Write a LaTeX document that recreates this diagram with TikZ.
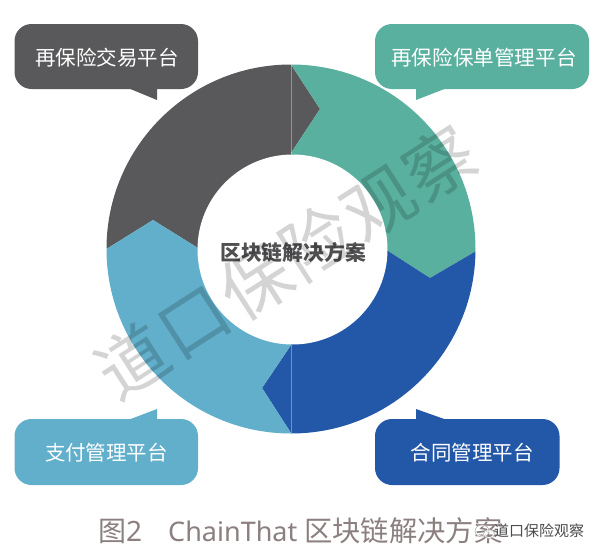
\documentclass[tikz,border=0pt]{standalone}
\usepackage{fontspec}
\setmainfont{Noto Sans CJK SC}
\newfontfamily\capfont{Noto Sans}
\definecolor{cgrey}{HTML}{59595B}
\definecolor{cteal}{HTML}{5AB09F}
\definecolor{cblue}{HTML}{2357A8}
\definecolor{clight}{HTML}{62AFCB}
\definecolor{captxt}{HTML}{8C7F7F}
\tikzset{
  calltext/.style={text=white,font=\fontsize{19.5}{22}\selectfont,inner sep=0pt},
  bubble/.style={rounded corners=17pt},
}
\begin{document}
\begin{tikzpicture}[x=1pt,y=-1pt]
\useasboundingbox (0,0) rectangle (600,557);
\fill[white] (0,0) rectangle (600,557);
\coordinate (c) at (291,249);
% ring
\begin{scope}
\clip (c) circle[radius=184.5pt];
\fill[cgrey] (291,64.5)--(320,109)--(291,153)--(c)--(198,248)--(153,220)--(108,248)--(0,248)--(0,0)--(291,0)--cycle;
\fill[cteal] (291,64.5)--(320,109)--(291,153)--(c)--(388,251)--(430,278)--(478,250)--(600,250)--(600,0)--(291,0)--cycle;
\fill[cblue] (478,250)--(430,278)--(388,251)--(c)--(291,345)--(262,388)--(291,433)--(291,557)--(600,557)--(600,250)--cycle;
\fill[clight] (291,433)--(262,388)--(291,345)--(c)--(198,248)--(153,220)--(108,248)--(0,248)--(0,557)--(291,557)--cycle;
\draw[white,opacity=.35,line width=.6pt] (291,64)--(291,154) (291,345)--(291,433);
\end{scope}
\fill[white] (292.5,249.5) circle[radius=95pt];
% callouts
\fill[cgrey,bubble] (14.5,24) rectangle (198,89);
\fill[cgrey] (128,88)--(157,100)--(157,88)--cycle;
\fill[cteal,bubble] (375,24) rectangle (589,89);
\fill[cteal] (416,88)--(416,100)--(447,88)--cycle;
\fill[clight,bubble] (14.5,419) rectangle (198,485);
\fill[clight] (128,420)--(157,409)--(157,420)--cycle;
\fill[cblue,bubble] (375,419) rectangle (559.5,485);
\fill[cblue] (416,420)--(416,409)--(447,420)--cycle;
\node[calltext,font=\fontsize{20.5}{22}\selectfont] (t1) at (107,58) {再保险交易平台};
\node[calltext,font=\fontsize{20.6}{22}\selectfont] (t2) at (484,58) {再保险保单管理平台};
\node[calltext,font=\fontsize{20.5}{22}\selectfont] (t3) at (106.5,453) {支付管理平台};
\node[calltext,font=\fontsize{20.5}{22}\selectfont] (t4) at (472,453) {合同管理平台};
\node[inner sep=0pt,text=cgrey!90!black,font=\fontsize{20.8}{22}\selectfont\bfseries] (center) at (293,252) {区块链解决方案};
% big watermark
\node[inner sep=0pt,rotate=32.7,text=black,opacity=.17,font=\fontsize{70}{72}\selectfont\addfontfeatures{LetterSpace=4.5}] (wm) at (286,262) {道口保险观察};
% caption
\node[inner sep=0pt,anchor=base west,text=captxt,font=\fontsize{28}{30}\selectfont] (cap1) at (98,541) {图\capfont 2};
\node[inner sep=0pt,anchor=base west,text=captxt,font=\capfont\fontsize{27}{30}\selectfont] (cap2) at (168,541) {ChainThat};
\node[inner sep=0pt,anchor=base west,text=captxt,font=\fontsize{28.3}{30}\selectfont] (cap3) at (304,541) {区块链解决方案};
% small watermark
\node[inner sep=0pt,anchor=west,text=white,font=\fontsize{15}{16}\selectfont] (wm2s) at (495,532) {道口保险观察};
\node[inner sep=0pt,anchor=west,text=black!70,font=\fontsize{15}{16}\selectfont] (wm2) at (494,531) {道口保险观察};
\draw[white,line width=1.4pt] (482,531) ellipse[x radius=6.5pt,y radius=5.5pt] (489,534) ellipse[x radius=5pt,y radius=4pt];
\draw[black!40,line width=.4pt] (482,531) ellipse[x radius=7pt,y radius=6pt] (489,534) ellipse[x radius=5.5pt,y radius=4.5pt];
\end{tikzpicture}
\end{document}
